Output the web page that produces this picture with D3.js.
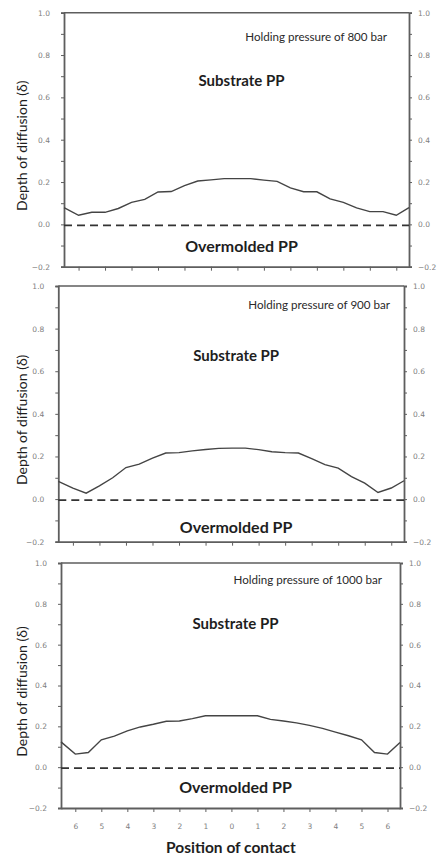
<!DOCTYPE html>
<html>
<head>
<meta charset="utf-8">
<script src="https://cdn.jsdelivr.net/npm/d3@7"></script>
<style>
  body { margin: 0; background: #fff; }
  svg { display: block; }
  .axis path, .axis line { stroke: #5e5e5e; }
  .axis text { fill: #808080; font-family: "DejaVu Sans", sans-serif; font-size: 7.5px; }
</style>
</head>
<body>
<div id="chart"></div>
<script>
// contact positions (centre = 0, left side negative)
var positions = [-6.55, -6, -5.5, -5, -4.5, -4, -3.5, -3, -2.5, -2, -1.5, -1, -0.5, 0,
                 0.5, 1, 1.5, 2, 2.5, 3, 3.5, 4, 4.5, 5, 5.5, 6, 6.48];

var depth800 = [0.079, 0.043, 0.057, 0.057, 0.075, 0.104, 0.118, 0.153, 0.155, 0.183, 0.205, 0.21, 0.216, 0.216,
                0.216, 0.209, 0.203, 0.172, 0.154, 0.154, 0.12, 0.104, 0.078, 0.06, 0.06, 0.043, 0.079];
var depth900 = [0.083, 0.051, 0.028, 0.062, 0.1, 0.148, 0.164, 0.192, 0.216, 0.218, 0.226, 0.233, 0.238, 0.239,
                0.239, 0.232, 0.222, 0.218, 0.216, 0.19, 0.162, 0.145, 0.105, 0.075, 0.031, 0.052, 0.086];
var depth1000 = [0.124, 0.064, 0.072, 0.134, 0.152, 0.178, 0.197, 0.21, 0.225, 0.226, 0.238, 0.252, 0.252, 0.252,
                 0.252, 0.252, 0.234, 0.226, 0.217, 0.205, 0.19, 0.172, 0.154, 0.134, 0.072, 0.064, 0.121];

var xTicks = [-6, -5, -4, -3, -2, -1, 0, 1, 2, 3, 4, 5, 6];
var xTickLabels = ["6", "5", "4", "3", "2", "1", "0", "1", "2", "3", "4", "5", "6"];
var yMajor = [-0.2, 0, 0.2, 0.4, 0.6, 0.8, 1.0];
var yMinor = [-0.1, 0.1, 0.3, 0.5, 0.7, 0.9];
var titles = ["Holding pressure of 800 bar", "Holding pressure of 900 bar", "Holding pressure of 1000 bar"];

var width = 442, height = 857;

var svg = d3.select("#chart")
    .append("svg")
    .attr("width", width)
    .attr("height", height);

var panels = [
    {left: 64, right: 409, top: 12.7, bottom: 266.7, values: depth800, title: titles[0],
     titleX: 387, titleY: 41, subY: 86, overY: 252, labels: false},
    {left: 58.3, right: 404, top: 286, bottom: 541.7, values: depth900, title: titles[1],
     titleX: 390, titleY: 309, subY: 361, overY: 533, labels: false},
    {left: 61, right: 400, top: 563, bottom: 808, values: depth1000, title: titles[2],
     titleX: 382, titleY: 584, subY: 629, overY: 793, labels: true}
];

panels.forEach(function (p) {
    var x = d3.scaleLinear().domain([-6.55, 6.48]).range([p.left, p.right]);
    var y = d3.scaleLinear().domain([-0.2, 1.0]).range([p.bottom, p.top]);
    var g = svg.append("g");

    // frame top line
    g.append("line")
        .attr("x1", p.left).attr("x2", p.right)
        .attr("y1", p.top).attr("y2", p.top)
        .attr("stroke", "#5e5e5e").attr("stroke-width", 1.6);

    // left axis
    g.append("g").attr("class", "axis")
        .attr("transform", "translate(" + p.left + ",0)")
        .call(d3.axisLeft(y).tickValues(yMinor).tickSize(3).tickFormat(""))
        .call(function (a) { a.select(".domain").remove(); });
    var la = g.append("g").attr("class", "axis")
        .attr("transform", "translate(" + p.left + ",0)")
        .call(d3.axisLeft(y).tickValues(yMajor).tickSize(3).tickPadding(11).tickFormat(d3.format(".1f")));
    la.select(".domain").attr("stroke-width", 1.8);

    // right axis
    g.append("g").attr("class", "axis")
        .attr("transform", "translate(" + p.right + ",0)")
        .call(d3.axisRight(y).tickValues(yMinor).tickSize(3).tickFormat(""))
        .call(function (a) { a.select(".domain").remove(); });
    var ra = g.append("g").attr("class", "axis")
        .attr("transform", "translate(" + p.right + ",0)")
        .call(d3.axisRight(y).tickValues(yMajor).tickSize(3).tickPadding(6).tickFormat(d3.format(".1f")));
    ra.select(".domain").attr("stroke-width", 1.8);

    // bottom axis
    var ba = g.append("g").attr("class", "axis")
        .attr("transform", "translate(0," + p.bottom + ")")
        .call(d3.axisBottom(x).tickValues(xTicks).tickSize(4).tickPadding(12)
            .tickSizeOuter(0)
            .tickFormat(function (d, i) { return p.labels ? xTickLabels[i] : ""; }));
    ba.select(".domain").attr("stroke-width", 1.8);

    // interface (dashed line)
    g.append("line")
        .attr("x1", p.left).attr("x2", p.right)
        .attr("y1", y(0) + 1).attr("y2", y(0) + 1)
        .attr("stroke", "#333").attr("stroke-width", 1.8)
        .attr("stroke-dasharray", "8,5");

    // diffusion curve
    var line = d3.line()
        .x(function (d, i) { return x(positions[i]); })
        .y(function (d) { return y(d); });
    g.append("path")
        .datum(p.values)
        .attr("d", line)
        .attr("fill", "none")
        .attr("stroke", "#444")
        .attr("stroke-width", 1.4);

    g.append("text")
        .attr("x", p.titleX).attr("y", p.titleY)
        .attr("text-anchor", "end")
        .attr("font-family", "Lato, sans-serif")
        .attr("font-size", 11.6)
        .attr("fill", "#2a2a2a")
        .text(p.title);

    g.append("text")
        .attr("x", (p.left + p.right) / 2 + 5).attr("y", p.subY)
        .attr("text-anchor", "middle")
        .attr("font-family", "Lato, sans-serif")
        .attr("font-weight", "bold")
        .attr("font-size", 15)
        .attr("fill", "#1e1e1e")
        .text("Substrate PP");

    g.append("text")
        .attr("x", (p.left + p.right) / 2 + 5).attr("y", p.overY)
        .attr("text-anchor", "middle")
        .attr("font-family", "Lato, sans-serif")
        .attr("font-weight", "bold")
        .attr("font-size", 16)
        .attr("fill", "#1e1e1e")
        .text("Overmolded PP");

    g.append("text")
        .attr("transform", "translate(27," + ((p.top + p.bottom) / 2 + 6) + ") rotate(-90)")
        .attr("text-anchor", "middle")
        .attr("font-family", "Lato, sans-serif")
        .attr("font-size", 14)
        .attr("fill", "#1e1e1e")
        .text("Depth of diffusion (\u03b4)");
});

svg.append("text")
    .attr("x", 231).attr("y", 853)
    .attr("text-anchor", "middle")
    .attr("font-family", "Lato, sans-serif")
    .attr("font-weight", "bold")
    .attr("font-size", 15.5)
    .attr("fill", "#1e1e1e")
    .text("Position of contact");
</script>
</body>
</html>
